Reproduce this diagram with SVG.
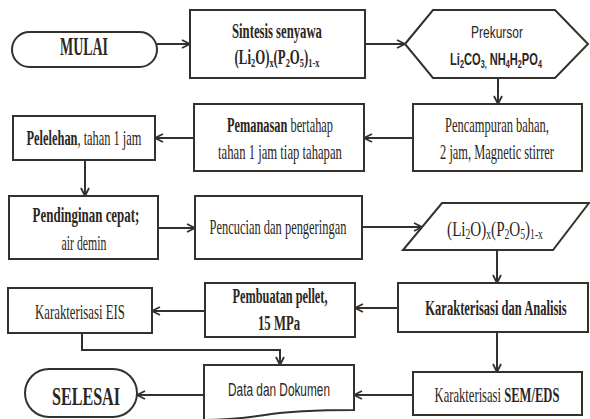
<svg xmlns="http://www.w3.org/2000/svg" width="590" height="419" viewBox="0 0 590 419">
<defs>
<style>
.sh{fill:#fff;stroke:#35302c;stroke-width:2}
.c{fill:none;stroke:#35302c;stroke-width:2;marker-end:url(#ah)}
.t{font-family:"Liberation Serif","Times New Roman",serif;fill:#2b2622;font-size:21px;text-anchor:middle}
.b{font-weight:bold}
.s{font-family:"Liberation Sans",Arial,sans-serif}
</style>
<marker id="ah" viewBox="0 0 10 10" refX="9" refY="5" markerWidth="10" markerHeight="10" markerUnits="userSpaceOnUse" orient="auto">
<path d="M1,1 L9,5 L1,9" fill="none" stroke="#35302c" stroke-width="1.8"/>
</marker>
</defs>
<rect width="590" height="419" fill="#fff"/>
<g id="connectors">
<path class="c" d="M157,44 H190"/>
<path class="c" d="M365,44 H405"/>
<path class="c" d="M498,78 V104"/>
<path class="c" d="M413,138 H364"/>
<path class="c" d="M194,138 H155"/>
<path class="c" d="M85,160 V196"/>
<path class="c" d="M158,228 H195"/>
<path class="c" d="M362,227 H422"/>
<path class="c" d="M497,250 V283"/>
<path class="c" d="M398,308 H355"/>
<path class="c" d="M205,311 H152"/>
<path class="c" d="M82,333 V350 H280 V365"/>
<path class="c" d="M497,332 V372"/>
<path class="c" d="M413,395 H354"/>
<path class="c" d="M204,395 H137"/>
</g>
<g id="mulai">
<rect class="sh" x="12" y="32" width="145" height="35" rx="17.5"/>
<text class="t b" transform="translate(84,55) scale(0.557,1)" style="font-size:25px">MULAI</text>
</g>
<g id="sintesis">
<rect class="sh" x="190" y="10" width="175" height="68"/>
<text class="t b" transform="translate(277,38) scale(0.605,1)">Sintesis senyawa</text>
<text class="t b" transform="translate(277,64) scale(0.642,1)" style="font-size:20px">(Li<tspan dy="3" font-size="13">2</tspan><tspan dy="-3">O)</tspan><tspan dy="3" font-size="13">x</tspan><tspan dy="-3">(P</tspan><tspan dy="3" font-size="13">2</tspan><tspan dy="-3">O</tspan><tspan dy="3" font-size="13">5</tspan><tspan dy="-3">)</tspan><tspan dy="3" font-size="13">1-x</tspan></text>
</g>
<g id="prekursor">
<polygon class="sh" points="405,44 433,10 555,10 588,44 555,78 433,78"/>
<text class="t s" transform="translate(497,38) scale(0.706,1)" style="font-size:17px">Prekursor</text>
<text class="t s b" transform="translate(496,65) scale(0.655,1)" style="font-size:17px">Li<tspan dy="3" font-size="11">2</tspan><tspan dy="-3">CO</tspan><tspan dy="3" font-size="11">3,</tspan><tspan dy="-3"> NH</tspan><tspan dy="3" font-size="11">4</tspan><tspan dy="-3">H</tspan><tspan dy="3" font-size="11">2</tspan><tspan dy="-3">PO</tspan><tspan dy="3" font-size="11">4</tspan></text>
</g>
<g id="pencampuran">
<rect class="sh" x="413" y="104" width="169" height="67"/>
<text class="t" transform="translate(497,132) scale(0.594,1)">Pencampuran bahan,</text>
<text class="t" transform="translate(497,159) scale(0.592,1)">2 jam, Magnetic stirrer</text>
</g>
<g id="pemanasan">
<rect class="sh" x="194" y="104" width="170" height="67"/>
<text class="t" transform="translate(280,132) scale(0.588,1)"><tspan class="b">Pemanasan</tspan> bertahap</text>
<text class="t" transform="translate(280,159) scale(0.604,1)">tahan 1 jam tiap tahapan</text>
</g>
<g id="pelelehan">
<rect class="sh" x="13" y="116" width="142" height="44"/>
<text class="t" transform="translate(84,145) scale(0.59,1)"><tspan class="b">Pelelehan</tspan>, tahan 1 jam</text>
</g>
<g id="pendinginan">
<rect class="sh" x="9" y="196" width="149" height="63"/>
<text class="t b" transform="translate(86,222) scale(0.617,1)">Pendinginan cepat;</text>
<text class="t" transform="translate(84,250) scale(0.563,1)">air demin</text>
</g>
<g id="pencucian">
<rect class="sh" x="195" y="196" width="167" height="63"/>
<text class="t" transform="translate(278,234) scale(0.593,1)">Pencucian dan pengeringan</text>
</g>
<g id="produk">
<polygon class="sh" points="442,203 589,203 553,250 403,250"/>
<text class="t" transform="translate(495,236) scale(0.687,1)" style="font-size:22px">(Li<tspan dy="3" font-size="14">2</tspan><tspan dy="-3">O)</tspan><tspan dy="3" font-size="14">x</tspan><tspan dy="-3">(P</tspan><tspan dy="3" font-size="14">2</tspan><tspan dy="-3">O</tspan><tspan dy="3" font-size="14">5</tspan><tspan dy="-3">)</tspan><tspan dy="3" font-size="14">1-x</tspan></text>
</g>
<g id="analisis">
<rect class="sh" x="398" y="283" width="190" height="49"/>
<text class="t b" transform="translate(496,315) scale(0.597,1)">Karakterisasi dan Analisis</text>
</g>
<g id="pellet">
<rect class="sh" x="205" y="283" width="150" height="54"/>
<text class="t b" transform="translate(280,303) scale(0.586,1)">Pembuatan pellet,</text>
<text class="t b" transform="translate(279,330) scale(0.605,1)">15 MPa</text>
</g>
<g id="eis">
<rect class="sh" x="8" y="288" width="144" height="45"/>
<text class="t" transform="translate(80,319) scale(0.61,1)">Karakterisasi EIS</text>
</g>
<g id="data">
<path class="sh" d="M204,365 H354 V410 C320,410 290,411 265,415 C245,418 225,420 204,420 Z"/>
<text class="t s" transform="translate(279,396) scale(0.658,1)" style="font-size:18px">Data dan Dokumen</text>
</g>
<g id="sem">
<rect class="sh" x="413" y="372" width="169" height="43"/>
<text class="t" transform="translate(497,402) scale(0.6,1)">Karakterisasi <tspan class="b">SEM/EDS</tspan></text>
</g>
<g id="selesai">
<rect class="sh" x="25" y="369" width="112" height="48" rx="24"/>
<text class="t b" transform="translate(86,405) scale(0.644,1)" style="font-size:25px">SELESAI</text>
</g>
</svg>
